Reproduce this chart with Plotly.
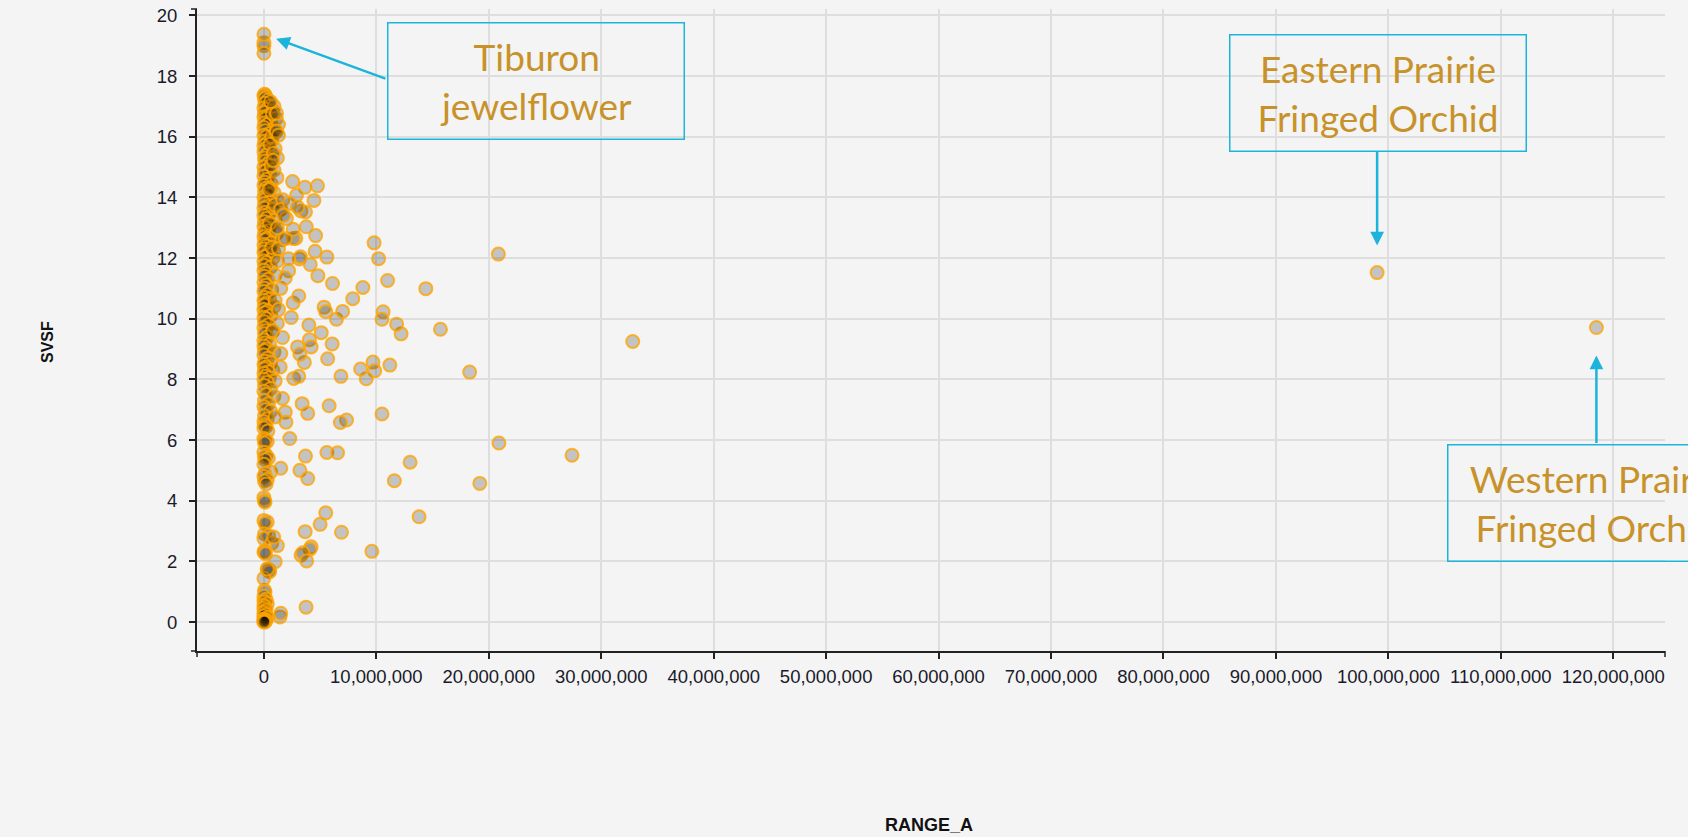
import plotly.graph_objects as go

# ---------------- data (RANGE_A in millions, SVSF) ----------------
# Annotated species
NOTE_TEXT = ["Tiburon<br>jewelflower", "Eastern Prairie<br>Fringed Orchid", "Western Prairie<br>Fringed Orchid"]
NOTE_X_M = [0.0, 99.0, 118.5]
NOTE_Y = [19.38, 11.52, 9.71]

# Other high values near the Tiburon jewelflower
TOP_X_M = [0.0, 0.0, 0.0]
TOP_Y = [19.1, 19.0, 18.75]

# Dense column of species with very small range
COL_X_M = [0.05, 0.1, 0.0, 0.2, 0.05, 0.35, 0.1, 0.5, 0.0, 0.25, 0.8, 0.05, 0.4, 0.0, 0.15,
           0.6, 0.05, 0.3, 0.0, 0.9, 0.1, 0.45, 0.0, 0.2, 0.7, 0.05, 0.3, 0.0, 0.15, 0.5,
           0.0, 0.25, 0.05, 0.6, 0.1, 0.35, 0.0, 0.2, 0.05, 0.5, 0.0, 0.3, 0.1, 0.65, 0.0,
           0.2, 0.05, 0.9, 0.4, 0.0, 0.15, 1.2, 0.55, 0.05, 0.3, 0.0, 0.8, 0.1, 0.45, 0.0,
           0.25, 1.0, 0.05, 0.6, 0.0, 0.2, 0.4, 0.05, 1.1, 0.0, 0.3, 0.1, 0.7, 0.0, 0.2,
           0.05, 0.5, 0.0, 0.35, 0.1, 0.8, 0.0, 0.25, 0.05, 0.6, 0.0, 0.15, 1.0, 0.05, 0.4,
           0.0, 0.2, 0.05, 0.7, 0.0, 0.3, 0.1, 0.5, 0.0, 0.2, 0.05, 0.9, 0.0, 0.35, 0.1,
           0.6, 0.0, 0.2, 0.05, 1.2, 0.4, 0.0, 0.15, 0.7, 0.05, 0.3, 0.0, 0.1, 0.5, 0.0,
           0.25, 0.05, 0.9, 0.0, 0.35, 0.1, 0.6, 0.0, 0.2, 0.05, 0.8, 0.4, 0.0, 0.15, 0.5,
           0.0, 1.0, 0.3, 0.05, 0.6, 0.0, 0.2, 0.9, 0.05, 0.4, 0.0, 0.15, 0.6, 0.05, 0.3,
           0.0, 0.1, 0.2, 0.0, 0.35, 0.0, 0.1, 0.3, 0.05, 0.0, 0.2, 0.05, 0.4, 0.1, 0.0,
           0.6, 0.1, 0.0, 0.3, 0.05, 0.2, 0.0, 0.05, 0.1, 0.0, 0.3, 0.1, 0.05, 0.4, 0.0,
           0.7, 0.05, 0.0, 0.15, 0.3, 0.5, 0.05, 0.1, 0.0, 0.2, 0.0, 0.05, 0.3, 0.0, 0.1,
           0.0, 0.2, 0.05, 0.0, 0.15, 0.0, 0.3, 0.05, 0.0, 0.2, 0.0, 0.1, 0.0,
           0.9, 1.1, 1.3, 0.7, 1.0, 1.2, 0.9, 0.6, 1.4, 1.1, 1.6, 0.9, 1.2, 1.5, 1.0,
           1.3, 0.8, 0.6, 0.75, 1.05, 0.55, 0.85, 0.65, 1.15, 0.45, 0.95, 0.5, 0.7]
COL_Y = [17.4, 17.38, 17.35, 17.3, 17.25, 17.2, 17.1, 17.0, 16.95, 16.9, 16.85, 16.8, 16.7, 16.65, 16.6,
         16.5, 16.45, 16.4, 16.3, 16.25, 16.2, 16.1, 16.05, 16.0, 15.9, 15.85, 15.8, 15.7, 15.6, 15.55,
         15.5, 15.4, 15.3, 15.25, 15.2, 15.1, 15.0, 14.9, 14.85, 14.8, 14.7, 14.6, 14.5, 14.45, 14.4,
         14.3, 14.2, 14.15, 14.1, 14.0, 13.95, 13.9, 13.85, 13.8, 13.7, 13.65, 13.6, 13.5, 13.45, 13.4,
         13.3, 13.25, 13.2, 13.1, 13.05, 13.0, 12.9, 12.85, 12.8, 12.7, 12.65, 12.6, 12.5, 12.45, 12.4,
         12.3, 12.25, 12.2, 12.1, 12.05, 12.0, 11.9, 11.85, 11.75, 11.7, 11.6, 11.5, 11.45, 11.4, 11.3,
         11.2, 11.1, 11.0, 10.95, 10.9, 10.8, 10.7, 10.65, 10.6, 10.5, 10.45, 10.4, 10.3, 10.25, 10.2,
         10.1, 10.05, 10.0, 9.9, 9.85, 9.8, 9.7, 9.6, 9.55, 9.5, 9.4, 9.3, 9.2, 9.15, 9.1,
         9.0, 8.95, 8.9, 8.8, 8.7, 8.6, 8.55, 8.5, 8.4, 8.35, 8.3, 8.25, 8.2, 8.1, 8.05,
         8.0, 7.95, 7.9, 7.8, 7.7, 7.6, 7.5, 7.45, 7.3, 7.2, 7.1, 7.0, 6.95, 6.8, 6.7,
         6.6, 6.5, 6.45, 6.4, 6.3, 6.05, 6.0, 5.95, 5.9, 5.6, 5.5, 5.45, 5.4, 5.35, 5.2,
         4.95, 4.9, 4.8, 4.7, 4.65, 4.55, 4.1, 4.0, 3.95, 3.35, 3.3, 3.25, 2.9, 2.85, 2.75,
         2.6, 2.35, 2.3, 2.25, 1.75, 1.7, 1.05, 1.0, 0.85, 0.75, 0.7, 0.65, 0.6, 0.55, 0.5,
         0.45, 0.4, 0.35, 0.3, 0.25, 0.2, 0.15, 0.1, 0.08, 0.05, 0.03, 0.0, 0.0,
         17.0, 16.6, 16.4, 16.0, 15.6, 15.3, 14.9, 14.3, 13.6, 12.9, 12.6, 12.2, 11.9, 11.0, 10.6,
         10.3, 9.6, 17.15, 16.75, 16.15, 15.75, 15.45, 15.05, 14.65, 14.25, 13.75, 13.15, 12.35]

# Species spread to the right of the column
SPREAD_X_M = [32.8, 15.7, 18.3, 20.9, 27.4, 19.2, 13.8, 13.0, 11.6, 10.5, 9.6, 11.2, 12.2, 11.8,
              10.6, 10.5, 9.7, 9.85, 9.1, 8.6, 6.85, 7.35, 6.8, 5.8, 5.67, 6.07, 5.1, 5.35, 5.5,
              6.45, 7.0, 7.9, 5.6, 6.55, 3.7, 3.2, 3.9, 1.5, 2.3, 1.9, 1.96, 3.4, 3.9, 1.65,
              2.65, 3.1, 3.6, 3.0, 4.0, 4.05, 4.2, 2.43, 1.65, 1.5, 2.6, 3.1, 5.5, 5.0, 6.9,
              3.67, 4.2, 4.1, 3.3, 3.45, 3.8, 3.75, 1.43, 1.5, 1.0, 1.2, 0.87, 0.5, 0.0,
              20.85, 14.4, 11.0, 10.2, 9.8, 8.8, 6.1, 5.6, 4.8, 4.55, 4.6, 4.76, 4.45, 3.65,
              2.55, 3.77, 3.3, 2.2, 1.9, 3.15, 2.84, 1.68, 1.12, 1.3, 1.12, 0.8, 4.12, 3.25,
              2.19, 1.3, 2.63, 1.9, 1.45, 3.2, 1.0, 2.9, 3.7, 1.5, 2.0, 2.3, 1.2, 2.6, 3.0,
              1.75, 0.3]
SPREAD_Y = [9.25, 9.65, 8.24, 5.9, 5.5, 4.57, 3.47, 5.27, 4.66, 6.86, 2.33, 8.47, 9.5, 9.82,
            10.23, 9.98, 8.57, 8.28, 8.02, 8.34, 8.1, 6.66, 6.58, 7.13, 8.68, 9.17, 9.54, 10.38, 10.23,
            9.98, 10.24, 10.66, 5.59, 5.58, 5.47, 5.0, 4.73, 5.07, 6.05, 6.92, 6.59, 7.2, 6.88, 7.37,
            8.03, 8.1, 8.56, 9.07, 9.79, 9.31, 9.07, 10.04, 9.38, 8.85, 10.52, 10.75, 3.6, 3.22, 2.96,
            2.98, 2.48, 2.4, 2.2, 2.28, 2.01, 0.49, 0.17, 0.29, 1.99, 2.52, 2.8, 1.66, 1.44,
            12.13, 10.99, 11.26, 11.98, 12.5, 11.03, 11.16, 12.03, 11.42, 12.22, 12.74, 14.38, 13.9, 14.33,
            14.52, 13.03, 13.55, 11.58, 11.34, 11.97, 12.65, 13.92, 16.19, 16.05, 16.77, 15.22, 11.79, 12.04,
            11.98, 12.31, 12.64, 12.64, 8.41, 8.83, 6.76, 14.07, 13.52, 13.6, 13.3, 13.8, 13.0, 12.95, 13.68,
            13.4, 1.75]

X_TICKS = [0, 10e6, 20e6, 30e6, 40e6, 50e6, 60e6, 70e6, 80e6, 90e6, 100e6, 110e6, 120e6]
Y_TICKS = [0, 2, 4, 6, 8, 10, 12, 14, 16, 18, 20]
X_TITLE = "RANGE_A"
Y_TITLE = "SVSF"

M = 1e6
xs = [v * M for v in COL_X_M + SPREAD_X_M + TOP_X_M + NOTE_X_M]
ys = COL_Y + SPREAD_Y + TOP_Y + NOTE_Y

# ---------------- figure ----------------
AXIS_COLOR = "#222222"
GRID = "#dedede"
BG = "#f4f4f4"
CYAN = "#1db4dc"
GOLD = "#c8922a"
SANS = "Arial, Liberation Sans, sans-serif"

fig = go.Figure()
fig.add_trace(go.Scatter(
    x=xs, y=ys, mode="markers",
    marker=dict(size=13, color="rgba(0,0,0,0.2)",
                line=dict(color="rgba(255,165,0,0.8)", width=2)),
    hoverinfo="x+y", showlegend=False,
))

axis_common = dict(
    showgrid=True, gridcolor=GRID, gridwidth=1.5, zeroline=False, automargin=False,
    showline=True, linecolor=AXIS_COLOR, linewidth=2,
    ticks="outside", ticklen=6, tickwidth=1.5, tickcolor=AXIS_COLOR,
    tickfont=dict(family=SANS, size=18.5, color="#1a1a2a"),
)

fig.update_layout(
    width=1688, height=837, autosize=False,
    margin=dict(l=197, r=23, t=9, b=186),
    paper_bgcolor=BG, plot_bgcolor=BG,
    xaxis=dict(range=[-5.95e6, 124.6e6], tickvals=X_TICKS, tickformat=",d",
               ticklabelstandoff=2, **axis_common),
    yaxis=dict(range=[-0.955, 20.21], tickvals=Y_TICKS, ticklabelstandoff=8,
               **axis_common),
)

# axis titles
fig.add_annotation(xref="paper", yref="paper", x=-0.1022, y=0.4813, text=Y_TITLE,
                   textangle=-90, showarrow=False, xanchor="center", yanchor="middle",
                   font=dict(family=SANS, size=16, color="#111", weight="bold"))
fig.add_annotation(xref="paper", yref="paper", x=0.4986, y=-0.271, text=X_TITLE,
                   showarrow=False, xanchor="center", yanchor="middle",
                   font=dict(family=SANS, size=18, color="#111", weight="bold"))

# label boxes
box_pos = [(0.231, 0.8883), (0.8048, 0.8698), (0.9529, 0.231)]
for txt, (bx, by) in zip(NOTE_TEXT, box_pos):
    fig.add_annotation(
        xref="paper", yref="paper", x=bx, y=by, xanchor="center", yanchor="middle",
        text=txt, showarrow=False, align="center",
        font=dict(family="Lato, sans-serif", size=37, color=GOLD),
        bordercolor=CYAN, borderwidth=1.5, borderpad=0, width=295, height=115,
    )

# arrows from boxes to the points
arrow_off = [(123, 45, 13), (0, -122, 27), (0, 117, 28)]
for (ax, ay, so), px, py in zip(arrow_off, NOTE_X_M, NOTE_Y):
    fig.add_annotation(
        x=px * M, y=py, xref="x", yref="y", ax=ax, ay=ay, text="",
        showarrow=True, arrowhead=2, arrowsize=1.1, arrowwidth=2.5,
        arrowcolor=CYAN, standoff=so,
    )

# outer ticks at the ends of the axis domains
for yy in (0, 1):
    fig.add_shape(type="line", xref="paper", yref="paper", xsizemode="pixel", xanchor=0,
                  x0=-6, x1=0, y0=yy, y1=yy, line=dict(color=AXIS_COLOR, width=1.5))
for xx in (0, 1):
    fig.add_shape(type="line", xref="paper", yref="paper", ysizemode="pixel", yanchor=0,
                  y0=-6, y1=0, x0=xx, x1=xx, line=dict(color=AXIS_COLOR, width=1.5))

fig.write_html(
    "out.html",
    config={"displayModeBar": False},
    post_script="document.body.style.margin='0';document.body.style.background='#f4f4f4';"
                "document.documentElement.style.overflow='hidden';",
)
